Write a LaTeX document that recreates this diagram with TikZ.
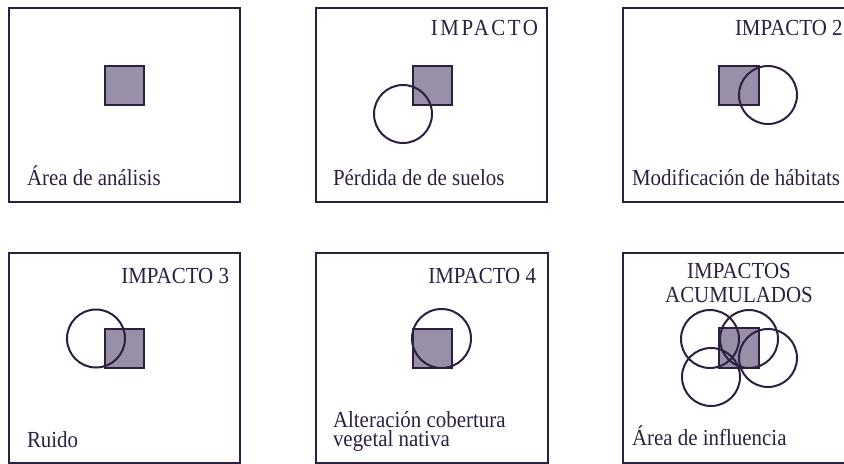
\documentclass[tikz,border=0pt]{standalone}
\usepackage{fontspec}
\setmainfont[FakeStretch=0.91]{Liberation Serif}
\definecolor{ink}{HTML}{2D1F40}
\definecolor{sqfill}{HTML}{9A8FA9}
\begin{document}
\begin{tikzpicture}[x=0.75pt,y=-0.75pt,
  panel/.style={draw=ink,line width=1.5pt},
  sq/.style={draw=ink,fill=sqfill,line width=1.5pt},
  ring/.style={draw=ink,line width=1.5pt},
  lbl/.style={inner sep=0pt,outer sep=0pt,text=ink,font=\fontsize{17.25}{20}\selectfont}]
\useasboundingbox (0,0) rectangle (844,464);
\clip (0,0) rectangle (844,464);
% Panel 1
\draw[panel] (9,8) rectangle (240,202);
\draw[sq] (105,66) rectangle (144,105);
\node[lbl,anchor=base west] (t1) at (27,185) {Área de análisis};
% Panel 2
\draw[panel] (316,8) rectangle (547,202);
\draw[sq] (413,66) rectangle (452,105);
\draw[ring] (403,114) circle (29);
\node[lbl,anchor=base east] (h2) at (538,36) {\addfontfeature{LetterSpace=11}IMPACTO};
\node[lbl,anchor=base west] (t2) at (333,185) {Pérdida de de suelos};
% Panel 3
\draw[panel] (623,8) rectangle (854,202);
\draw[sq] (719,66) rectangle (759,105);
\draw[ring] (768,95) circle (29);
\node[lbl,anchor=base west] (h3) at (735,36) {IMPACTO 2};
\node[lbl,anchor=base west] (t3) at (632,185) {Modificación de hábitats};
% Panel 4
\draw[panel] (9,253) rectangle (240,463);
\draw[sq] (105,329) rectangle (144,368);
\draw[ring] (96,338.5) circle (29);
\node[lbl,anchor=base east] (h4) at (229,283) {IMPACTO 3};
\node[lbl,anchor=base west] (t4) at (27,447) {Ruido};
% Panel 5
\draw[panel] (316,253) rectangle (548,463);
\draw[sq] (413,329) rectangle (452,368);
\draw[ring] (441.5,338.5) circle (29.5);
\node[lbl,anchor=base east] (h5) at (536,283) {IMPACTO 4};
\node[lbl,anchor=base west,align=left,font=\fontsize{17.25}{14.25}\selectfont] (t5) at (333,446) {Alteración cobertura\\vegetal nativa};
% Panel 6
\draw[panel] (623,253) rectangle (854,463);
\draw[sq] (719,328) rectangle (759,368);
\draw[ring] (710,339) circle (29);
\draw[ring] (749,339) circle (29);
\draw[ring] (768,358) circle (29);
\draw[ring] (711,377) circle (29);
\node[lbl,anchor=base,align=center,font=\fontsize{17.25}{18}\selectfont] (h6) at (739,302) {IMPACTOS\\ACUMULADOS};
\node[lbl,anchor=base west] (t6) at (632,445) {Área de influencia};
\end{tikzpicture}
\end{document}
